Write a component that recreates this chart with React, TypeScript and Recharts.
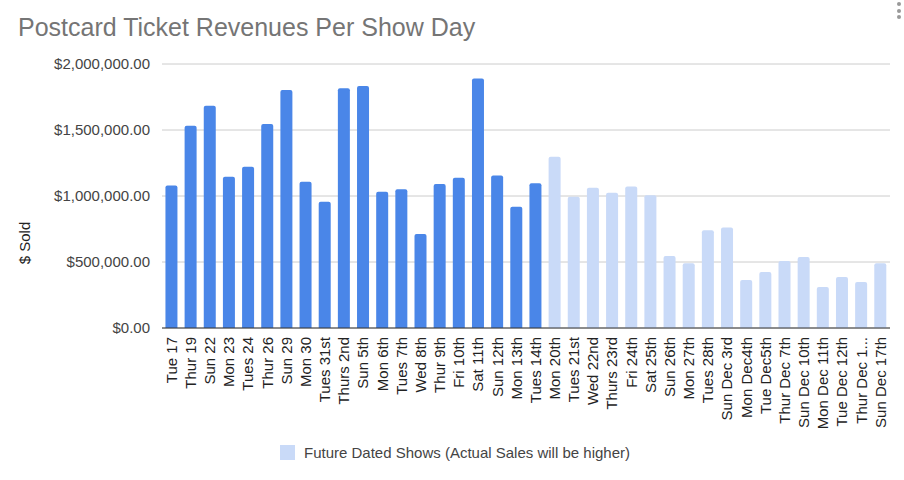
import React from 'react';
import { BarChart, Bar, Cell, XAxis, YAxis, CartesianGrid, Legend, Label } from 'recharts';

const showDays = [
  'Tue 17', 'Thur 19', 'Sun 22', 'Mon 23', 'Tues 24', 'Thur 26', 'Sun 29', 'Mon 30',
  'Tues 31st', 'Thurs 2nd', 'Sun 5th', 'Mon 6th', 'Tues 7th', 'Wed 8th', 'Thur 9th',
  'Fri 10th', 'Sat 11th', 'Sun 12th', 'Mon 13th', 'Tues 14th', 'Mon 20th', 'Tues 21st',
  'Wed 22nd', 'Thurs 23rd', 'Fri 24th', 'Sat 25th', 'Sun 26th', 'Mon 27th', 'Tues 28th',
  'Sun Dec 3rd', 'Mon Dec4th', 'Tue Dec5th', 'Thur Dec 7th', 'Sun Dec 10th',
  'Mon Dec 11th', 'Tue Dec 12th', 'Thur Dec 14th', 'Sun Dec 17th',
];

const revenue = [
  1080000, 1532000, 1683000, 1145000, 1221000, 1545000, 1803000, 1108000,
  957000, 1816000, 1833000, 1032000, 1052000, 713000, 1090000,
  1138000, 1891000, 1155000, 919000, 1097000, 1298000, 995000,
  1063000, 1025000, 1072000, 1005000, 545000, 490000, 741000,
  761000, 364000, 424000, 507000, 537000,
  311000, 386000, 348000, 490000,
];

// shows from this index onward haven't happened yet
const firstFutureShow = 20;

const yTicks = [0, 500000, 1000000, 1500000, 2000000];

const PAST_COLOR = '#4a86e8';
const FUTURE_COLOR = '#c9daf8';
const FONT = '"Liberation Sans", Arial, sans-serif';

const data = showDays.map((day, i) => ({ day, sold: revenue[i] }));

const money = (v: number) =>
  '$' + v.toLocaleString('en-US', { minimumFractionDigits: 2, maximumFractionDigits: 2 });

const shorten = (s: string) => (s.length > 12 ? s.slice(0, 10) + '...' : s);

const DayTick = ({ x, y, payload }: any) => (
  <g transform={`translate(${x},${y})`}>
    <text
      transform="rotate(-90)"
      x={-7}
      dy="0.35em"
      textAnchor="end"
      fontSize={15}
      fontFamily={FONT}
      fill="#222"
    >
      {shorten(payload.value)}
    </text>
  </g>
);

const SoldLabel = () => (
  <text
    transform="translate(30,243) rotate(-90)"
    textAnchor="middle"
    fontSize={15}
    fontFamily={FONT}
    fill="#222"
  >
    $ Sold
  </text>
);

const FutureLegend = () => (
  <div
    style={{
      display: 'flex',
      alignItems: 'center',
      marginLeft: 280,
      fontFamily: FONT,
      fontSize: 15,
      color: '#444',
      height: 20,
    }}
  >
    <span style={{ width: 15, height: 15, background: FUTURE_COLOR, marginRight: 9 }} />
    Future Dated Shows (Actual Sales will be higher)
  </div>
);

export default function App() {
  return (
    <div style={{ position: 'relative', width: 904, height: 480, background: '#fff', fontFamily: FONT }}>
      <style>{'body{margin:0}'}</style>
      <div
        style={{
          position: 'absolute',
          left: 18,
          top: 13,
          fontSize: 25,
          color: '#757575',
          zIndex: 1,
        }}
      >
        Postcard Ticket Revenues Per Show Day
      </div>
      <div style={{ position: 'absolute', left: 897, top: 2, zIndex: 1 }}>
        {[0, 1, 2].map((d) => (
          <div
            key={d}
            style={{ width: 4, height: 4, borderRadius: 2, background: '#999', marginBottom: 2.5 }}
          />
        ))}
      </div>
      <BarChart
        width={904}
        height={480}
        data={data}
        margin={{ top: 64, right: 14, left: 0, bottom: 18 }}
        barCategoryGap="18%"
      >
        <CartesianGrid vertical={false} stroke="#cccccc" />
        <XAxis
          dataKey="day"
          interval={0}
          height={114}
          tick={<DayTick />}
          tickLine={false}
          tickSize={0}
          axisLine={{ stroke: '#333' }}
        />
        <YAxis
          width={162}
          domain={[0, 2000000]}
          ticks={yTicks}
          tickFormatter={money}
          tickLine={false}
          tickSize={0}
          tickMargin={12}
          axisLine={false}
          tick={{ fontSize: 15, fill: '#444', fontFamily: FONT }}
        >
          <Label content={<SoldLabel />} />
        </YAxis>
        <Legend verticalAlign="bottom" height={20} content={<FutureLegend />} />
        <Bar dataKey="sold" radius={[2, 2, 0, 0]} isAnimationActive={false}>
          {data.map((_, i) => (
            <Cell key={i} fill={i < firstFutureShow ? PAST_COLOR : FUTURE_COLOR} />
          ))}
        </Bar>
      </BarChart>
    </div>
  );
}
